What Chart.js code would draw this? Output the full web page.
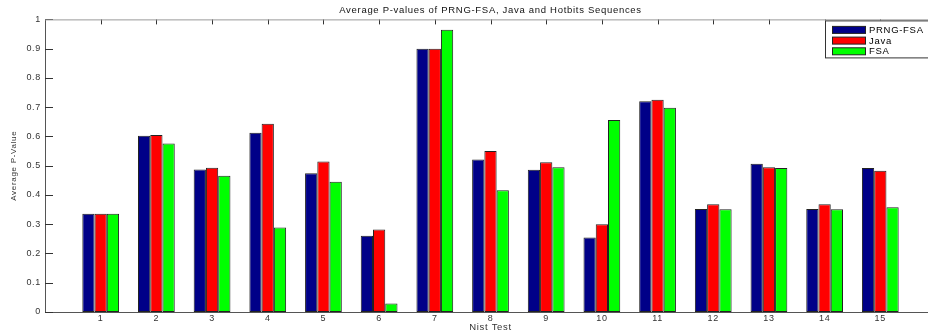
<!DOCTYPE html>
<html>
<head>
<meta charset="utf-8">
<script src="https://cdn.jsdelivr.net/npm/chart.js@4.4.1/dist/chart.umd.min.js"></script>
<style>
  html, body { margin: 0; padding: 0; background: #fff; overflow: hidden; }
  #wrap { width: 946px; height: 334px; position: relative; }
</style>
</head>
<body>
<div id="wrap"><canvas id="c"></canvas></div>
<script>
const tests = [1, 2, 3, 4, 5, 6, 7, 8, 9, 10, 11, 12, 13, 14, 15];
const prngFsa = [0.336, 0.602, 0.487, 0.613, 0.474, 0.261, 0.900, 0.521, 0.486, 0.255, 0.720, 0.352, 0.507, 0.352, 0.492];
const java    = [0.336, 0.605, 0.493, 0.643, 0.514, 0.282, 0.900, 0.550, 0.512, 0.300, 0.725, 0.368, 0.495, 0.368, 0.483];
const fsa     = [0.336, 0.576, 0.466, 0.289, 0.445, 0.029, 0.965, 0.416, 0.495, 0.656, 0.698, 0.351, 0.492, 0.351, 0.358];
const yTicks = [0, 0.1, 0.2, 0.3, 0.4, 0.5, 0.6, 0.7, 0.8, 0.9, 1];

const FONT = "'Liberation Sans', Arial, sans-serif";
const SPACING = '0.7px';

function pts(vals) {
  return tests.map((t, i) => ({ x: t, y: vals[i] }));
}

// wider matlab-ish text
const spacing = {
  id: 'spacing',
  beforeUpdate(chart) { chart.ctx.letterSpacing = SPACING; },
  beforeDraw(chart) { chart.ctx.letterSpacing = SPACING; }
};

// matlab style frame: inward ticks, top line, legend box
const frame = {
  id: 'frame',
  beforeDatasetsDraw(chart) {
    const { ctx, chartArea: a, scales: { x, y } } = chart;
    ctx.save();
    ctx.strokeStyle = '#333';
    ctx.lineWidth = 1;
    ctx.beginPath();
    tests.forEach(t => {
      const px = Math.round(x.getPixelForValue(t)) + 0.5;
      ctx.moveTo(px, a.top); ctx.lineTo(px, a.top + 5);
      ctx.moveTo(px, a.bottom); ctx.lineTo(px, a.bottom - 5);
    });
    yTicks.forEach(v => {
      const py = Math.round(y.getPixelForValue(v)) + 0.5;
      ctx.moveTo(a.left, py); ctx.lineTo(a.left + 8, py);
      ctx.moveTo(a.right, py); ctx.lineTo(a.right - 8, py);
    });
    ctx.stroke();
    ctx.strokeStyle = '#999';
    ctx.beginPath();
    ctx.moveTo(a.left, a.top + 0.5); ctx.lineTo(a.right, a.top + 0.5);
    ctx.moveTo(a.right - 0.5, a.top); ctx.lineTo(a.right - 0.5, a.bottom);
    ctx.stroke();
    ctx.restore();
  },
  afterDraw(chart) {
    const { ctx, chartArea: a } = chart;
    const lx = a.right - 111, ly = a.top + 1;
    ctx.save();
    ctx.fillStyle = '#fff';
    ctx.fillRect(lx, ly, 115, 37);
    ctx.strokeStyle = '#333';
    ctx.lineWidth = 1;
    ctx.strokeRect(lx + 0.5, ly + 0.5, 115, 37);
    ctx.font = '9.5px ' + FONT;
    ctx.textBaseline = 'middle';
    chart.data.datasets.forEach((ds, i) => {
      const ry = ly + 9.5 + i * 10.7;
      ctx.fillStyle = ds.backgroundColor;
      ctx.fillRect(lx + 7, ry - 3.5, 34, 7);
      ctx.strokeStyle = '#222';
      ctx.strokeRect(lx + 7.5, ry - 3.5, 33, 7);
      ctx.fillStyle = '#000';
      ctx.fillText(ds.label, lx + 44, ry + 0.5);
    });
    ctx.restore();
  }
};

new Chart(document.getElementById('c'), {
  type: 'bar',
  data: {
    datasets: [
      { label: 'PRNG-FSA', data: pts(prngFsa), backgroundColor: '#000088' },
      { label: 'Java', data: pts(java), backgroundColor: '#ff0000' },
      { label: 'FSA', data: pts(fsa), backgroundColor: '#00ff00' }
    ]
  },
  options: {
    responsive: true,
    maintainAspectRatio: false,
    animation: false,
    layout: { padding: { left: 0, right: 10, top: 0, bottom: 0 } },
    datasets: {
      bar: {
        borderColor: '#222',
        borderWidth: 1,
        borderSkipped: false,
        categoryPercentage: 0.66,
        barPercentage: 1
      }
    },
    plugins: {
      legend: { display: false },
      tooltip: { enabled: false },
      title: {
        display: true,
        fullSize: false,
        text: 'Average P-values of PRNG-FSA, Java and Hotbits Sequences',
        color: '#111',
        font: { family: FONT, size: 9.5, weight: 'normal' },
        padding: { top: 5, bottom: 3 },
        align: 'center'
      }
    },
    scales: {
      x: {
        type: 'linear',
        min: 0,
        max: 16,
        offset: false,
        grid: { display: false, drawTicks: false },
        border: { display: true, color: '#555' },
        afterBuildTicks: s => { s.ticks = tests.map(t => ({ value: t })); },
        afterFit: s => { s.height = 22; },
        ticks: {
          color: '#333',
          padding: 1,
          autoSkip: false,
          maxRotation: 0,
          font: { family: FONT, size: 9 },
          callback: v => String(v)
        },
        title: {
          display: true,
          text: 'Nist Test',
          color: '#333',
          font: { family: FONT, size: 9.5 },
          padding: { top: 0, bottom: 1 }
        }
      },
      y: {
        min: 0,
        max: 1,
        grid: { display: false, drawTicks: false },
        border: { display: true, color: '#555' },
        afterBuildTicks: s => { s.ticks = yTicks.map(v => ({ value: v })); },
        afterFit: s => { s.width = 45; },
        ticks: {
          color: '#333',
          padding: 4,
          font: { family: FONT, size: 9 },
          callback: v => String(v)
        },
        title: {
          display: true,
          text: 'Average P-Value',
          color: '#333',
          font: { family: "'Liberation Sans Narrow', " + FONT, size: 8 },
          padding: { top: 9, bottom: 0 }
        }
      }
    }
  },
  plugins: [spacing, frame]
});
</script>
</body>
</html>
